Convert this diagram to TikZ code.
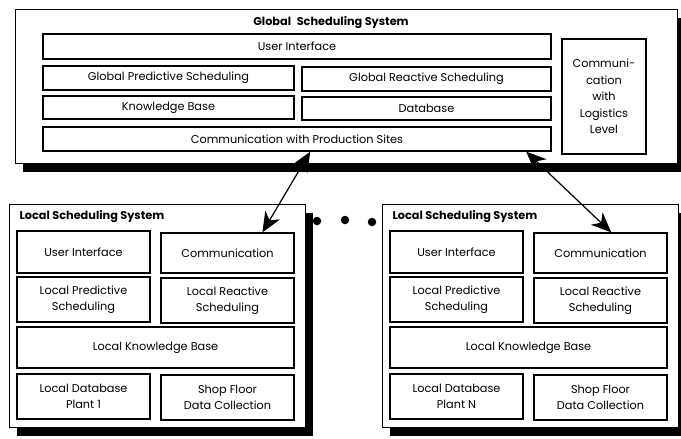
\documentclass[tikz,border=0pt]{standalone}
\usepackage{fontspec}
\setmainfont{Poppins}
\usetikzlibrary{arrows.meta,calc,shadows}
\tikzset{
  bx/.style={draw=black, line width=1.3pt, fill=white, align=center, inner sep=1pt},
  sys/.style={bx, line width=1pt, drop shadow={shadow xshift=8pt, shadow yshift=-9pt, fill=black, opacity=1}},
  ttl/.style={font=\bfseries\fontsize{11.3}{13}\selectfont},
  txt/.style={font=\fontsize{11.3}{16.5}\selectfont},
  dot/.style={circle, fill=black, inner sep=0pt, minimum size=8.5pt},
  arr2/.style={{Stealth[length=20pt,width=17pt,inset=6pt]}-{Stealth[length=20pt,width=17pt,inset=6pt]}, line width=1.2pt},
}
\begin{document}
\begin{tikzpicture}[x=1pt, y=-1pt, txt]
  \useasboundingbox (0,0) rectangle (681,439);
  % global level
  \node[sys, minimum width=662, minimum height=154] (gs) at (346,86) {};
  \node[ttl] (gst) at (331,23) {Global\enspace Scheduling System};
  \node[bx, minimum width=508, minimum height=25] (gui) at (297,46.5) {User Interface};
  \node[bx, minimum width=251, minimum height=24] (gps) at (168.5,78) {Global Predictive Scheduling};
  \node[bx, minimum width=249, minimum height=24] (grs) at (426.5,79) {Global Reactive Scheduling};
  \node[bx, minimum width=251, minimum height=23] (gkb) at (168.5,107.5) {Knowledge Base};
  \node[bx, minimum width=249, minimum height=23] (gdb) at (426.5,108.5) {Database};
  \node[bx, minimum width=508, minimum height=24] (gcp) at (297,139) {Communication with Production Sites};
  \node[bx, minimum width=84, minimum height=115] (gcl) at (604,96.5) {Communi-\\cation\\with\\Logistics\\Level};
  % local level, plant 1 and plant N
  \foreach \k/\dx/\pl in {1/0/1, 2/373/N} {
    \begin{scope}[xshift=\dx]
      \node[sys, minimum width=296, minimum height=223] (ls\k) at (157,315.5) {};
      \node[ttl, anchor=west] (lst\k) at (16,217) {Local Scheduling System};
      \node[bx, minimum width=133, minimum height=42] (lui\k) at (83.5,252) {User Interface};
      \node[bx, minimum width=133, minimum height=40] (lcom\k) at (227.5,253) {Communication};
      \node[bx, minimum width=133, minimum height=45] (lps\k) at (83.5,299.5) {Local Predictive\\Scheduling};
      \node[bx, minimum width=133, minimum height=45] (lrs\k) at (227.5,300.5) {Local Reactive\\Scheduling};
      \node[bx, minimum width=277, minimum height=41] (lkb\k) at (155.5,347.5) {Local Knowledge Base};
      \node[bx, minimum width=133, minimum height=45] (ldb\k) at (83.5,396.5) {Local Database\\Plant \pl};
      \node[bx, minimum width=133, minimum height=45] (lsf\k) at (227.5,397.5) {Shop Floor\\Data Collection};
    \end{scope}
  }
  \foreach \nm/\x/\y in {d1/317/221, d2/345/220, d3/372/222}
    { \node[dot] (\nm) at (\x,\y) {}; }
  \draw[arr2] ($(gcp.south west)!0.526!(gcp.south east)$) -- ($(lcom1.north west)!0.76!(lcom1.north east)$);
  \draw[arr2] ($(gcp.south west)!0.95!(gcp.south east)$) -- ($(lcom2.north west)!0.58!(lcom2.north east)$);
\end{tikzpicture}
\end{document}
